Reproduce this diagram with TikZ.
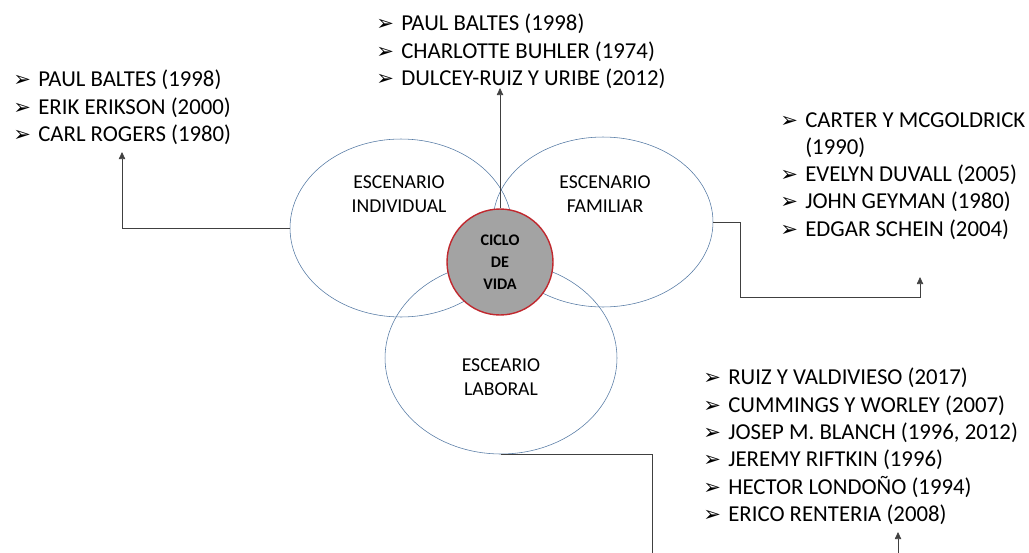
\documentclass[tikz,border=0pt]{standalone}
\usepackage{fontspec}
\setmainfont{Carlito}
\newfontfamily\symfont{DejaVu Sans}
\usetikzlibrary{shapes.geometric,arrows.meta}
\definecolor{azul}{HTML}{5479A3}
\definecolor{rojo}{HTML}{C0282E}
\definecolor{gris}{HTML}{A3A3A3}
\newcommand{\bul}{\makebox[17.8pt][l]{\symfont\fontsize{15}{15}\selectfont ➢}}
\newcommand{\nobul}{\makebox[17.8pt][l]{}}
\tikzset{
  escenario/.style={ellipse, draw=azul, thin, inner sep=0pt, align=center},
  lista/.style={anchor=north west, inner sep=0pt, align=left, font=\fontsize{16.2}{19.4}\selectfont},
  etiqueta/.style={align=center, font=\fontsize{14}{17.5}\selectfont},
  flecha/.style={draw=black!75, line width=0.5pt, -{Triangle[width=4.5pt,length=5pt]}}
}
\begin{document}
\begin{tikzpicture}[x=0.025cm, y=-0.025cm]
  \useasboundingbox (0,0) rectangle (1029,552);
  \clip (0,0) rectangle (1029,552);
  % escenarios
  \node[escenario, minimum width=222*0.711pt, minimum height=178*0.711pt] (ind) at (401,228) {};
  \node[escenario, minimum width=220*0.711pt, minimum height=170*0.711pt] (fam) at (603,222) {};
  \node[escenario, minimum width=232*0.711pt, minimum height=192*0.711pt] (lab) at (501,358) {};
  \node[etiqueta] at (399,194) {ESCENARIO\\INDIVIDUAL};
  \node[etiqueta] at (605,194) {ESCENARIO\\FAMILIAR};
  \node[etiqueta] at (501,377) {ESCEARIO\\LABORAL};
  % ciclo de vida
  \node[circle, draw=rojo, line width=1pt, fill=gris, minimum size=106*0.711pt, inner sep=0pt,
        align=center, font=\bfseries\fontsize{11.5}{15.5}\selectfont] (ciclo) at (500,262) {CICLO\\DE\\VIDA};
  % listas de autores
  \node[lista] (autInd) at (13,70) {\bul PAUL BALTES (1998)\\ \bul ERIK ERIKSON (2000)\\ \bul CARL ROGERS (1980)};
  \node[lista] (autCiclo) at (376,14) {\bul PAUL BALTES (1998)\\ \bul CHARLOTTE BUHLER (1974)\\ \bul DULCEY-RUIZ Y URIBE (2012)};
  \node[lista] (autFam) at (780,112) {\bul CARTER Y MCGOLDRICK\\ \nobul (1990)\\ \bul EVELYN DUVALL (2005)\\ \bul JOHN GEYMAN (1980)\\ \bul EDGAR SCHEIN (2004)};
  \node[lista] (autLab) at (703,368) {\bul RUIZ Y VALDIVIESO (2017)\\ \bul CUMMINGS Y WORLEY (2007)\\ \bul JOSEP M. BLANCH (1996, 2012)\\ \bul JEREMY RIFTKIN (1996)\\ \bul HECTOR LONDOÑO (1994)\\ \bul ERICO RENTERIA (2008)};
  % puntas de flecha
  \coordinate (pInd) at (122,152);
  \coordinate (pCiclo) at (500,88);
  \coordinate (pFam) at (920,277);
  \coordinate (pLab) at (898,532);
  % conectores
  \draw[flecha] (ind.west) -| (pInd);
  \draw[flecha] (ciclo.north) -- (pCiclo);
  \draw[flecha] (fam.east) -- (740,222) |- (920,297) -- (pFam);
  \draw[flecha] (lab.south) -| (652,580) -| (pLab);
\end{tikzpicture}
\end{document}
